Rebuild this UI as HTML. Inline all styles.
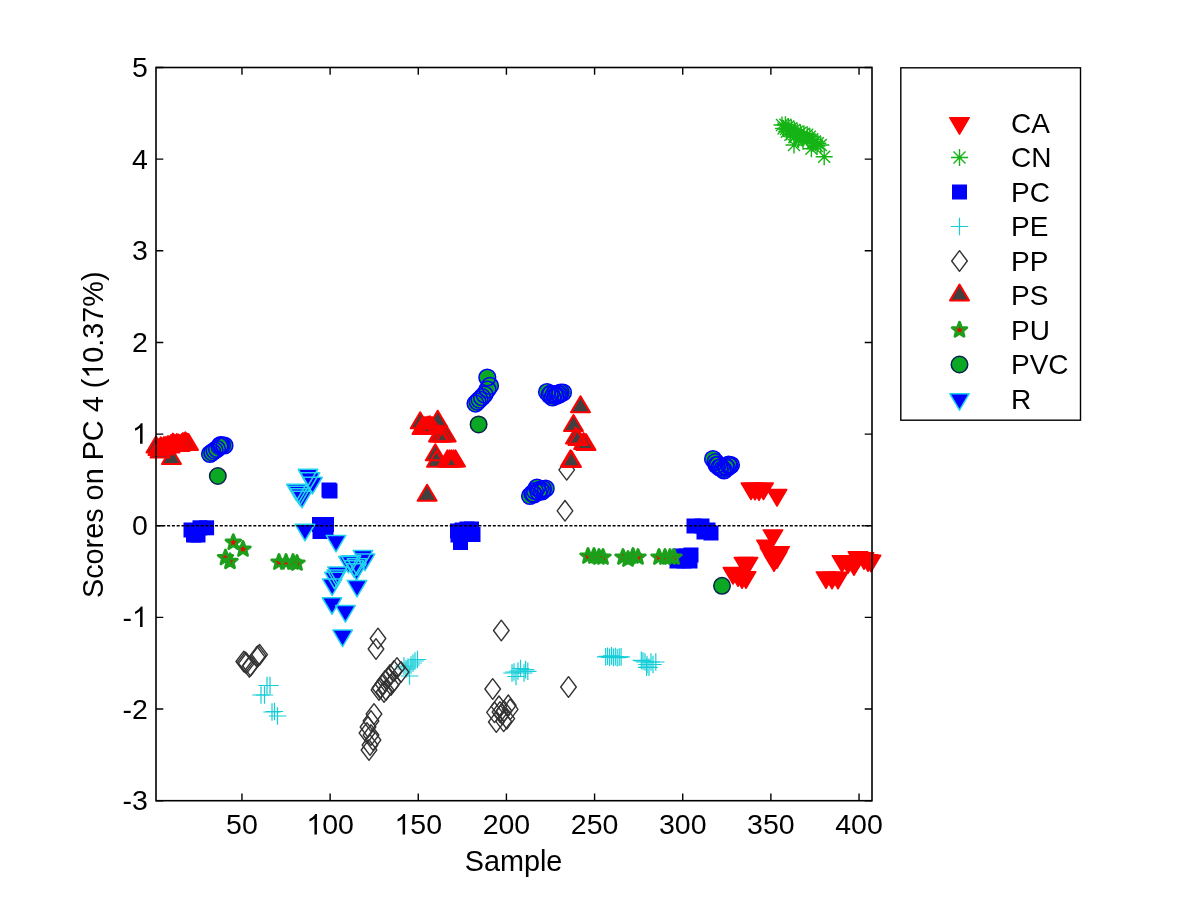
<!DOCTYPE html><html><head><meta charset="utf-8"><style>html,body{margin:0;padding:0;background:#fff;}svg{display:block;will-change:transform;}</style></head><body>
<svg width="1200" height="900" viewBox="0 0 1200 900">
<rect width="1200" height="900" fill="#fff"/>
<defs><path id="ca" d="M-9.75,0.75 L9.75,0.75 L0,17.25 Z" fill="#ff0000" stroke="#ff0000" stroke-width="1.5" stroke-linejoin="round"/><path id="r_f" d="M-9.75,0.75 L9.75,0.75 L0,17.25 Z" fill="#0000ff"/><path id="r_e" d="M-9.75,0.75 L9.75,0.75 L0,17.25 Z" fill="none" stroke="#22d3ee" stroke-width="1.5" stroke-linejoin="round"/><path id="ps_f" d="M0,1 L9.5,17 L-9.5,17 Z" fill="#404040"/><path id="ps_e" d="M0,1 L9.5,17 L-9.5,17 Z" fill="none" stroke="#ff0000" stroke-width="2" stroke-linejoin="round"/><rect id="pc" x="-7.5" y="-7.5" width="15" height="15" fill="#0000ff"/><circle id="pvc_f" r="8.25" fill="#0aa823"/><circle id="pvc_e" r="8.35" fill="none" stroke="#0000ff" stroke-width="1.5"/><circle id="pvci_e" r="8.25" fill="none" stroke="#0a2050" stroke-width="1.5"/><path id="pp" d="M0,-10.3 L7.8,0 L0,10.3 L-7.8,0 Z" fill="none" stroke="#333333" stroke-width="1.4" stroke-linejoin="round"/><path id="pe" d="M-8.7,0 H8.7 M0,-8.8 V8.8" fill="none" stroke="#14cdd8" stroke-width="1.2"/><path id="cn" d="M-8.5,0 H8.5 M0,-8.5 V8.5 M-6,-6 L6,6 M-6,6 L6,-6" fill="none" stroke="#14b414" stroke-width="1.4"/><path id="pu_f" d="M0.00,-7.65 L1.89,-2.60 L7.28,-2.36 L3.06,0.99 L4.50,6.19 L0.00,3.21 L-4.50,6.19 L-3.06,0.99 L-7.28,-2.36 L-1.89,-2.60 Z" fill="#e01000"/><path id="pu_e" d="M0.00,-7.65 L1.89,-2.60 L7.28,-2.36 L3.06,0.99 L4.50,6.19 L0.00,3.21 L-4.50,6.19 L-3.06,0.99 L-7.28,-2.36 L-1.89,-2.60 Z" fill="none" stroke="#1ca01c" stroke-width="2.9" stroke-linejoin="round"/></defs>
<use href="#ca" x="751.0" y="482.3"/><use href="#ca" x="755.0" y="482.5"/><use href="#ca" x="759.0" y="483.0"/><use href="#ca" x="763.5" y="482.3"/><use href="#ca" x="777.0" y="488.8"/><use href="#ca" x="773.0" y="529.2"/><use href="#ca" x="766.5" y="539.4"/><use href="#ca" x="779.6" y="545.9"/><use href="#ca" x="774.0" y="554.0"/><use href="#ca" x="770.0" y="547.0"/><use href="#ca" x="777.0" y="551.0"/><use href="#ca" x="744.0" y="556.7"/><use href="#ca" x="748.0" y="556.7"/><use href="#ca" x="733.0" y="566.8"/><use href="#ca" x="738.0" y="569.0"/><use href="#ca" x="742.0" y="571.0"/><use href="#ca" x="746.0" y="571.0"/><use href="#ca" x="826.0" y="571.2"/><use href="#ca" x="832.0" y="571.5"/><use href="#ca" x="838.0" y="571.5"/><use href="#ca" x="842.0" y="554.9"/><use href="#ca" x="848.0" y="556.0"/><use href="#ca" x="854.0" y="558.0"/><use href="#ca" x="858.0" y="551.0"/><use href="#ca" x="864.0" y="552.0"/><use href="#ca" x="868.0" y="554.0"/><use href="#ca" x="871.0" y="554.5"/>
<use href="#cn" x="782.0" y="125.0"/><use href="#cn" x="785.4" y="124.7"/><use href="#cn" x="788.3" y="126.5"/><use href="#cn" x="791.3" y="128.3"/><use href="#cn" x="794.3" y="130.0"/><use href="#cn" x="797.2" y="131.8"/><use href="#cn" x="800.5" y="132.8"/><use href="#cn" x="803.9" y="133.7"/><use href="#cn" x="807.2" y="134.7"/><use href="#cn" x="809.8" y="136.8"/><use href="#cn" x="812.2" y="139.3"/><use href="#cn" x="814.9" y="141.4"/><use href="#cn" x="817.8" y="143.2"/><use href="#cn" x="820.8" y="145.0"/><use href="#cn" x="783.5" y="128.4"/><use href="#cn" x="786.8" y="131.8"/><use href="#cn" x="790.4" y="134.8"/><use href="#cn" x="794.4" y="137.3"/><use href="#cn" x="798.5" y="139.5"/><use href="#cn" x="803.0" y="141.0"/><use href="#cn" x="794.0" y="145.0"/><use href="#cn" x="811.4" y="148.7"/><use href="#cn" x="824.2" y="156.7"/><use href="#cn" x="795.0" y="136.0"/><use href="#cn" x="802.0" y="138.0"/><use href="#cn" x="808.0" y="140.0"/><use href="#cn" x="813.0" y="143.0"/><use href="#cn" x="817.0" y="146.0"/><use href="#cn" x="790.0" y="131.0"/><use href="#cn" x="786.0" y="129.0"/>
<use href="#pc" x="191.0" y="530.0"/><use href="#pc" x="200.0" y="527.8"/><use href="#pc" x="206.6" y="527.8"/><use href="#pc" x="194.0" y="535.0"/><use href="#pc" x="198.0" y="535.0"/><use href="#pc" x="193.5" y="534.7"/><use href="#pc" x="329.0" y="490.0"/><use href="#pc" x="330.0" y="491.0"/><use href="#pc" x="319.5" y="524.5"/><use href="#pc" x="326.5" y="524.5"/><use href="#pc" x="320.0" y="531.5"/><use href="#pc" x="326.0" y="530.0"/><use href="#pc" x="457.5" y="531.0"/><use href="#pc" x="462.0" y="530.0"/><use href="#pc" x="467.0" y="529.0"/><use href="#pc" x="471.5" y="529.0"/><use href="#pc" x="473.0" y="534.5"/><use href="#pc" x="460.5" y="542.5"/><use href="#pc" x="458.0" y="535.0"/><use href="#pc" x="694.0" y="526.0"/><use href="#pc" x="702.0" y="526.0"/><use href="#pc" x="708.0" y="530.0"/><use href="#pc" x="711.0" y="533.0"/><use href="#pc" x="704.0" y="532.0"/><use href="#pc" x="677.0" y="561.0"/><use href="#pc" x="680.0" y="556.0"/><use href="#pc" x="686.0" y="556.0"/><use href="#pc" x="690.0" y="561.0"/><use href="#pc" x="691.0" y="555.0"/><use href="#pc" x="684.0" y="561.0"/>
<use href="#pe" x="267.0" y="685.5"/><use href="#pe" x="270.0" y="685.5"/><use href="#pe" x="261.0" y="695.0"/><use href="#pe" x="264.5" y="695.0"/><use href="#pe" x="272.0" y="712.0"/><use href="#pe" x="274.5" y="711.5"/><use href="#pe" x="277.5" y="716.0"/><use href="#pe" x="417.5" y="659.5"/><use href="#pe" x="415.0" y="661.0"/><use href="#pe" x="413.0" y="663.0"/><use href="#pe" x="411.0" y="665.0"/><use href="#pe" x="408.0" y="667.0"/><use href="#pe" x="406.0" y="669.0"/><use href="#pe" x="409.5" y="676.0"/><use href="#pe" x="404.0" y="666.0"/><use href="#pe" x="512.0" y="673.0"/><use href="#pe" x="516.0" y="676.5"/><use href="#pe" x="520.5" y="668.5"/><use href="#pe" x="527.8" y="671.3"/><use href="#pe" x="525.6" y="669.6"/><use href="#pe" x="524.0" y="673.0"/><use href="#pe" x="518.0" y="671.0"/><use href="#pe" x="514.0" y="672.0"/><use href="#pe" x="641.3" y="660.4"/><use href="#pe" x="643.0" y="661.0"/><use href="#pe" x="645.0" y="662.0"/><use href="#pe" x="647.0" y="664.5"/><use href="#pe" x="649.0" y="667.3"/><use href="#pe" x="651.0" y="662.0"/><use href="#pe" x="653.0" y="664.5"/><use href="#pe" x="655.8" y="662.0"/><use href="#pe" x="646.6" y="667.3"/><use href="#pe" x="605.7" y="656.9"/><use href="#pe" x="607.6" y="656.3"/><use href="#pe" x="609.6" y="657.3"/><use href="#pe" x="611.5" y="655.9"/><use href="#pe" x="613.4" y="657.4"/><use href="#pe" x="615.3" y="656.6"/><use href="#pe" x="617.2" y="657.7"/><use href="#pe" x="619.2" y="657.1"/><use href="#pe" x="621.1" y="656.9"/>
<use href="#pp" x="243.8" y="661.5"/><use href="#pp" x="245.2" y="662.3"/><use href="#pp" x="246.4" y="663.3"/><use href="#pp" x="259.6" y="654.7"/><use href="#pp" x="258.3" y="655.7"/><use href="#pp" x="257.0" y="656.8"/><use href="#pp" x="249.3" y="666.9"/><use href="#pp" x="250.6" y="665.8"/><use href="#pp" x="378.0" y="638.5"/><use href="#pp" x="376.0" y="649.0"/><use href="#pp" x="397.0" y="668.0"/><use href="#pp" x="401.0" y="672.0"/><use href="#pp" x="394.0" y="671.0"/><use href="#pp" x="390.0" y="675.0"/><use href="#pp" x="388.0" y="678.0"/><use href="#pp" x="385.0" y="681.0"/><use href="#pp" x="383.0" y="684.0"/><use href="#pp" x="380.0" y="688.0"/><use href="#pp" x="386.0" y="690.0"/><use href="#pp" x="391.0" y="685.0"/><use href="#pp" x="393.0" y="682.0"/><use href="#pp" x="379.0" y="690.0"/><use href="#pp" x="384.0" y="692.0"/><use href="#pp" x="374.0" y="714.0"/><use href="#pp" x="371.0" y="721.0"/><use href="#pp" x="368.0" y="727.0"/><use href="#pp" x="367.0" y="733.0"/><use href="#pp" x="371.0" y="735.0"/><use href="#pp" x="373.0" y="740.0"/><use href="#pp" x="370.0" y="745.0"/><use href="#pp" x="369.0" y="750.0"/><use href="#pp" x="501.3" y="630.5"/><use href="#pp" x="492.7" y="689.0"/><use href="#pp" x="499.0" y="706.3"/><use href="#pp" x="508.3" y="705.3"/><use href="#pp" x="510.2" y="709.3"/><use href="#pp" x="494.5" y="712.3"/><use href="#pp" x="496.3" y="722.0"/><use href="#pp" x="503.7" y="721.3"/><use href="#pp" x="506.8" y="718.7"/><use href="#pp" x="500.0" y="712.0"/><use href="#pp" x="502.0" y="714.0"/><use href="#pp" x="504.0" y="711.0"/><use href="#pp" x="566.7" y="469.8"/><use href="#pp" x="565.0" y="510.8"/><use href="#pp" x="568.5" y="687.0"/>
<use href="#ps_f" x="171.5" y="447.0"/><use href="#ps_f" x="156.0" y="435.5"/><use href="#ps_f" x="158.0" y="438.0"/><use href="#ps_f" x="160.0" y="440.5"/><use href="#ps_f" x="160.8" y="436.3"/><use href="#ps_f" x="163.0" y="437.5"/><use href="#ps_f" x="164.0" y="436.0"/><use href="#ps_f" x="166.0" y="436.0"/><use href="#ps_f" x="168.0" y="435.0"/><use href="#ps_f" x="170.0" y="435.5"/><use href="#ps_f" x="171.0" y="434.0"/><use href="#ps_f" x="173.0" y="432.5"/><use href="#ps_f" x="175.0" y="434.0"/><use href="#ps_f" x="176.8" y="433.0"/><use href="#ps_f" x="178.5" y="433.5"/><use href="#ps_f" x="180.0" y="434.0"/><use href="#ps_f" x="182.0" y="433.0"/><use href="#ps_f" x="183.0" y="432.0"/><use href="#ps_f" x="185.3" y="431.3"/><use href="#ps_f" x="187.0" y="432.5"/><use href="#ps_f" x="188.5" y="433.0"/><use href="#ps_f" x="427.1" y="483.7"/><use href="#ps_f" x="420.2" y="411.3"/><use href="#ps_f" x="422.0" y="417.0"/><use href="#ps_f" x="424.0" y="416.0"/><use href="#ps_f" x="426.0" y="416.0"/><use href="#ps_f" x="428.0" y="415.5"/><use href="#ps_f" x="429.9" y="415.2"/><use href="#ps_f" x="432.0" y="416.0"/><use href="#ps_f" x="437.7" y="409.7"/><use href="#ps_f" x="438.5" y="424.5"/><use href="#ps_f" x="440.0" y="424.5"/><use href="#ps_f" x="443.1" y="424.5"/><use href="#ps_f" x="446.2" y="424.5"/><use href="#ps_f" x="435.3" y="443.2"/><use href="#ps_f" x="436.5" y="449.7"/><use href="#ps_f" x="447.4" y="449.4"/><use href="#ps_f" x="449.5" y="449.4"/><use href="#ps_f" x="451.5" y="449.4"/><use href="#ps_f" x="453.5" y="449.4"/><use href="#ps_f" x="455.5" y="449.4"/><use href="#ps_f" x="580.5" y="395.2"/><use href="#ps_f" x="573.5" y="414.0"/><use href="#ps_f" x="575.5" y="426.5"/><use href="#ps_f" x="578.0" y="428.0"/><use href="#ps_f" x="583.6" y="432.0"/><use href="#ps_f" x="586.0" y="433.0"/><use href="#ps_f" x="570.5" y="449.3"/><use href="#ps_f" x="571.5" y="450.0"/><use href="#ps_e" x="171.5" y="447.0"/><use href="#ps_e" x="156.0" y="435.5"/><use href="#ps_e" x="158.0" y="438.0"/><use href="#ps_e" x="160.0" y="440.5"/><use href="#ps_e" x="160.8" y="436.3"/><use href="#ps_e" x="163.0" y="437.5"/><use href="#ps_e" x="164.0" y="436.0"/><use href="#ps_e" x="166.0" y="436.0"/><use href="#ps_e" x="168.0" y="435.0"/><use href="#ps_e" x="170.0" y="435.5"/><use href="#ps_e" x="171.0" y="434.0"/><use href="#ps_e" x="173.0" y="432.5"/><use href="#ps_e" x="175.0" y="434.0"/><use href="#ps_e" x="176.8" y="433.0"/><use href="#ps_e" x="178.5" y="433.5"/><use href="#ps_e" x="180.0" y="434.0"/><use href="#ps_e" x="182.0" y="433.0"/><use href="#ps_e" x="183.0" y="432.0"/><use href="#ps_e" x="185.3" y="431.3"/><use href="#ps_e" x="187.0" y="432.5"/><use href="#ps_e" x="188.5" y="433.0"/><use href="#ps_e" x="427.1" y="483.7"/><use href="#ps_e" x="420.2" y="411.3"/><use href="#ps_e" x="422.0" y="417.0"/><use href="#ps_e" x="424.0" y="416.0"/><use href="#ps_e" x="426.0" y="416.0"/><use href="#ps_e" x="428.0" y="415.5"/><use href="#ps_e" x="429.9" y="415.2"/><use href="#ps_e" x="432.0" y="416.0"/><use href="#ps_e" x="437.7" y="409.7"/><use href="#ps_e" x="438.5" y="424.5"/><use href="#ps_e" x="440.0" y="424.5"/><use href="#ps_e" x="443.1" y="424.5"/><use href="#ps_e" x="446.2" y="424.5"/><use href="#ps_e" x="435.3" y="443.2"/><use href="#ps_e" x="436.5" y="449.7"/><use href="#ps_e" x="447.4" y="449.4"/><use href="#ps_e" x="449.5" y="449.4"/><use href="#ps_e" x="451.5" y="449.4"/><use href="#ps_e" x="453.5" y="449.4"/><use href="#ps_e" x="455.5" y="449.4"/><use href="#ps_e" x="580.5" y="395.2"/><use href="#ps_e" x="573.5" y="414.0"/><use href="#ps_e" x="575.5" y="426.5"/><use href="#ps_e" x="578.0" y="428.0"/><use href="#ps_e" x="583.6" y="432.0"/><use href="#ps_e" x="586.0" y="433.0"/><use href="#ps_e" x="570.5" y="449.3"/><use href="#ps_e" x="571.5" y="450.0"/>
<use href="#pu_f" x="233.3" y="542.4"/><use href="#pu_f" x="243.0" y="549.2"/><use href="#pu_f" x="225.5" y="557.7"/><use href="#pu_f" x="230.0" y="561.5"/><use href="#pu_f" x="279.0" y="562.2"/><use href="#pu_f" x="286.0" y="562.2"/><use href="#pu_f" x="293.0" y="562.2"/><use href="#pu_f" x="297.0" y="563.2"/><use href="#pu_f" x="588.0" y="556.2"/><use href="#pu_f" x="594.0" y="556.2"/><use href="#pu_f" x="599.0" y="557.2"/><use href="#pu_f" x="603.0" y="557.2"/><use href="#pu_f" x="623.0" y="557.2"/><use href="#pu_f" x="628.0" y="559.2"/><use href="#pu_f" x="633.0" y="556.2"/><use href="#pu_f" x="638.0" y="557.2"/><use href="#pu_f" x="659.0" y="557.2"/><use href="#pu_f" x="665.0" y="557.2"/><use href="#pu_f" x="670.0" y="557.2"/><use href="#pu_f" x="674.0" y="557.2"/><use href="#pu_e" x="233.3" y="542.4"/><use href="#pu_e" x="243.0" y="549.2"/><use href="#pu_e" x="225.5" y="557.7"/><use href="#pu_e" x="230.0" y="561.5"/><use href="#pu_e" x="279.0" y="562.2"/><use href="#pu_e" x="286.0" y="562.2"/><use href="#pu_e" x="293.0" y="562.2"/><use href="#pu_e" x="297.0" y="563.2"/><use href="#pu_e" x="588.0" y="556.2"/><use href="#pu_e" x="594.0" y="556.2"/><use href="#pu_e" x="599.0" y="557.2"/><use href="#pu_e" x="603.0" y="557.2"/><use href="#pu_e" x="623.0" y="557.2"/><use href="#pu_e" x="628.0" y="559.2"/><use href="#pu_e" x="633.0" y="556.2"/><use href="#pu_e" x="638.0" y="557.2"/><use href="#pu_e" x="659.0" y="557.2"/><use href="#pu_e" x="665.0" y="557.2"/><use href="#pu_e" x="670.0" y="557.2"/><use href="#pu_e" x="674.0" y="557.2"/>
<use href="#pvc_f" x="210.0" y="454.0"/><use href="#pvc_f" x="212.3" y="452.3"/><use href="#pvc_f" x="214.6" y="450.6"/><use href="#pvc_f" x="217.0" y="449.0"/><use href="#pvc_f" x="219.5" y="446.3"/><use href="#pvc_f" x="222.0" y="445.3"/><use href="#pvc_f" x="224.5" y="445.5"/><use href="#pvc_f" x="220.5" y="445.0"/><use href="#pvc_f" x="487.3" y="377.5"/><use href="#pvc_f" x="490.0" y="385.8"/><use href="#pvc_f" x="487.5" y="389.5"/><use href="#pvc_f" x="484.5" y="394.5"/><use href="#pvc_f" x="482.0" y="397.2"/><use href="#pvc_f" x="479.5" y="399.6"/><use href="#pvc_f" x="477.5" y="401.6"/><use href="#pvc_f" x="475.5" y="403.6"/><use href="#pvc_f" x="547.0" y="392.0"/><use href="#pvc_f" x="549.5" y="395.0"/><use href="#pvc_f" x="552.5" y="397.5"/><use href="#pvc_f" x="555.5" y="396.0"/><use href="#pvc_f" x="558.0" y="393.5"/><use href="#pvc_f" x="560.5" y="392.5"/><use href="#pvc_f" x="563.0" y="392.5"/><use href="#pvc_f" x="551.0" y="393.5"/><use href="#pvc_f" x="554.0" y="394.5"/><use href="#pvc_f" x="557.0" y="395.5"/><use href="#pvc_f" x="559.5" y="394.5"/><use href="#pvc_f" x="530.0" y="496.0"/><use href="#pvc_f" x="532.5" y="493.5"/><use href="#pvc_f" x="535.0" y="491.0"/><use href="#pvc_f" x="537.0" y="487.5"/><use href="#pvc_f" x="540.0" y="489.5"/><use href="#pvc_f" x="543.0" y="489.0"/><use href="#pvc_f" x="545.7" y="488.5"/><use href="#pvc_f" x="534.0" y="494.5"/><use href="#pvc_f" x="538.5" y="492.0"/><use href="#pvc_f" x="542.0" y="491.5"/><use href="#pvc_f" x="713.0" y="459.0"/><use href="#pvc_f" x="715.5" y="462.0"/><use href="#pvc_f" x="718.0" y="464.5"/><use href="#pvc_f" x="721.0" y="467.0"/><use href="#pvc_f" x="724.0" y="470.5"/><use href="#pvc_f" x="727.0" y="468.0"/><use href="#pvc_f" x="729.5" y="466.0"/><use href="#pvc_f" x="731.0" y="465.0"/><use href="#pvc_f" x="716.5" y="465.0"/><use href="#pvc_f" x="719.5" y="467.5"/><use href="#pvc_f" x="722.5" y="469.0"/><use href="#pvc_f" x="725.5" y="466.5"/><use href="#pvc_f" x="728.5" y="464.5"/><use href="#pvc_f" x="217.8" y="476.0"/><use href="#pvc_f" x="478.6" y="424.4"/><use href="#pvc_f" x="722.0" y="585.8"/><use href="#pvc_e" x="210.0" y="454.0"/><use href="#pvc_e" x="212.3" y="452.3"/><use href="#pvc_e" x="214.6" y="450.6"/><use href="#pvc_e" x="217.0" y="449.0"/><use href="#pvc_e" x="219.5" y="446.3"/><use href="#pvc_e" x="222.0" y="445.3"/><use href="#pvc_e" x="224.5" y="445.5"/><use href="#pvc_e" x="220.5" y="445.0"/><use href="#pvc_e" x="487.3" y="377.5"/><use href="#pvc_e" x="490.0" y="385.8"/><use href="#pvc_e" x="487.5" y="389.5"/><use href="#pvc_e" x="484.5" y="394.5"/><use href="#pvc_e" x="482.0" y="397.2"/><use href="#pvc_e" x="479.5" y="399.6"/><use href="#pvc_e" x="477.5" y="401.6"/><use href="#pvc_e" x="475.5" y="403.6"/><use href="#pvc_e" x="547.0" y="392.0"/><use href="#pvc_e" x="549.5" y="395.0"/><use href="#pvc_e" x="552.5" y="397.5"/><use href="#pvc_e" x="555.5" y="396.0"/><use href="#pvc_e" x="558.0" y="393.5"/><use href="#pvc_e" x="560.5" y="392.5"/><use href="#pvc_e" x="563.0" y="392.5"/><use href="#pvc_e" x="551.0" y="393.5"/><use href="#pvc_e" x="554.0" y="394.5"/><use href="#pvc_e" x="557.0" y="395.5"/><use href="#pvc_e" x="559.5" y="394.5"/><use href="#pvc_e" x="530.0" y="496.0"/><use href="#pvc_e" x="532.5" y="493.5"/><use href="#pvc_e" x="535.0" y="491.0"/><use href="#pvc_e" x="537.0" y="487.5"/><use href="#pvc_e" x="540.0" y="489.5"/><use href="#pvc_e" x="543.0" y="489.0"/><use href="#pvc_e" x="545.7" y="488.5"/><use href="#pvc_e" x="534.0" y="494.5"/><use href="#pvc_e" x="538.5" y="492.0"/><use href="#pvc_e" x="542.0" y="491.5"/><use href="#pvc_e" x="713.0" y="459.0"/><use href="#pvc_e" x="715.5" y="462.0"/><use href="#pvc_e" x="718.0" y="464.5"/><use href="#pvc_e" x="721.0" y="467.0"/><use href="#pvc_e" x="724.0" y="470.5"/><use href="#pvc_e" x="727.0" y="468.0"/><use href="#pvc_e" x="729.5" y="466.0"/><use href="#pvc_e" x="731.0" y="465.0"/><use href="#pvc_e" x="716.5" y="465.0"/><use href="#pvc_e" x="719.5" y="467.5"/><use href="#pvc_e" x="722.5" y="469.0"/><use href="#pvc_e" x="725.5" y="466.5"/><use href="#pvc_e" x="728.5" y="464.5"/><use href="#pvci_e" x="217.8" y="476.0"/><use href="#pvci_e" x="478.6" y="424.4"/><use href="#pvci_e" x="722.0" y="585.8"/>
<use href="#r_f" x="308.0" y="468.5"/><use href="#r_f" x="310.0" y="472.0"/><use href="#r_f" x="312.5" y="476.5"/><use href="#r_f" x="296.5" y="483.5"/><use href="#r_f" x="298.5" y="485.5"/><use href="#r_f" x="300.0" y="488.0"/><use href="#r_f" x="302.0" y="490.5"/><use href="#r_f" x="305.0" y="523.5"/><use href="#r_f" x="336.0" y="534.7"/><use href="#r_f" x="363.0" y="549.7"/><use href="#r_f" x="365.0" y="553.3"/><use href="#r_f" x="348.5" y="555.7"/><use href="#r_f" x="351.0" y="555.0"/><use href="#r_f" x="354.0" y="560.0"/><use href="#r_f" x="357.0" y="558.0"/><use href="#r_f" x="356.5" y="563.0"/><use href="#r_f" x="337.5" y="566.2"/><use href="#r_f" x="336.7" y="569.2"/><use href="#r_f" x="334.5" y="571.5"/><use href="#r_f" x="332.2" y="578.2"/><use href="#r_f" x="357.0" y="579.7"/><use href="#r_f" x="332.0" y="597.0"/><use href="#r_f" x="345.4" y="604.8"/><use href="#r_f" x="342.6" y="629.3"/><use href="#r_e" x="308.0" y="468.5"/><use href="#r_e" x="310.0" y="472.0"/><use href="#r_e" x="312.5" y="476.5"/><use href="#r_e" x="296.5" y="483.5"/><use href="#r_e" x="298.5" y="485.5"/><use href="#r_e" x="300.0" y="488.0"/><use href="#r_e" x="302.0" y="490.5"/><use href="#r_e" x="305.0" y="523.5"/><use href="#r_e" x="336.0" y="534.7"/><use href="#r_e" x="363.0" y="549.7"/><use href="#r_e" x="365.0" y="553.3"/><use href="#r_e" x="348.5" y="555.7"/><use href="#r_e" x="351.0" y="555.0"/><use href="#r_e" x="354.0" y="560.0"/><use href="#r_e" x="357.0" y="558.0"/><use href="#r_e" x="356.5" y="563.0"/><use href="#r_e" x="337.5" y="566.2"/><use href="#r_e" x="336.7" y="569.2"/><use href="#r_e" x="334.5" y="571.5"/><use href="#r_e" x="332.2" y="578.2"/><use href="#r_e" x="357.0" y="579.7"/><use href="#r_e" x="332.0" y="597.0"/><use href="#r_e" x="345.4" y="604.8"/><use href="#r_e" x="342.6" y="629.3"/>
<line x1="156.0" y1="525.75" x2="872.0" y2="525.75" stroke="#000" stroke-width="1.3" stroke-dasharray="3,1.79" stroke-dashoffset="-1.52"/>
<rect x="156.0" y="67.5" width="716.0" height="733.2" fill="none" stroke="#000" stroke-width="1.6"/>
<path d="M241.96,800.70 V793.40 M241.96,67.50 V74.80 M330.11,800.70 V793.40 M330.11,67.50 V74.80 M418.26,800.70 V793.40 M418.26,67.50 V74.80 M506.42,800.70 V793.40 M506.42,67.50 V74.80 M594.58,800.70 V793.40 M594.58,67.50 V74.80 M682.73,800.70 V793.40 M682.73,67.50 V74.80 M770.88,800.70 V793.40 M770.88,67.50 V74.80 M859.04,800.70 V793.40 M859.04,67.50 V74.80 M156.00,800.70 H163.30 M872.00,800.70 H864.70 M156.00,709.05 H163.30 M872.00,709.05 H864.70 M156.00,617.40 H163.30 M872.00,617.40 H864.70 M156.00,525.75 H163.30 M872.00,525.75 H864.70 M156.00,434.10 H163.30 M872.00,434.10 H864.70 M156.00,342.45 H163.30 M872.00,342.45 H864.70 M156.00,250.80 H163.30 M872.00,250.80 H864.70 M156.00,159.15 H163.30 M872.00,159.15 H864.70 M156.00,67.50 H163.30 M872.00,67.50 H864.70" stroke="#000" stroke-width="1.4" fill="none"/>
<g font-family="Liberation Sans, sans-serif" font-size="28.5" style="font-kerning:none" fill="#000"><text x="226.10" y="834.40">50</text></g><g font-family="Liberation Sans, sans-serif" font-size="28.5" style="font-kerning:none" fill="#000"><path transform="translate(306.33,834.40) scale(0.01392,-0.01392)" d="M763,0 L583,0 L583,1147 Q518,1085 412,1023 Q307,961 223,930 L223,1104 Q374,1175 486,1276 Q599,1377 646,1472 L763,1472 Z"/><text x="322.18" y="834.40">00</text></g><g font-family="Liberation Sans, sans-serif" font-size="28.5" style="font-kerning:none" fill="#000"><path transform="translate(394.49,834.40) scale(0.01392,-0.01392)" d="M763,0 L583,0 L583,1147 Q518,1085 412,1023 Q307,961 223,930 L223,1104 Q374,1175 486,1276 Q599,1377 646,1472 L763,1472 Z"/><text x="410.34" y="834.40">50</text></g><g font-family="Liberation Sans, sans-serif" font-size="28.5" style="font-kerning:none" fill="#000"><text x="482.64" y="834.40">200</text></g><g font-family="Liberation Sans, sans-serif" font-size="28.5" style="font-kerning:none" fill="#000"><text x="570.80" y="834.40">250</text></g><g font-family="Liberation Sans, sans-serif" font-size="28.5" style="font-kerning:none" fill="#000"><text x="658.95" y="834.40">300</text></g><g font-family="Liberation Sans, sans-serif" font-size="28.5" style="font-kerning:none" fill="#000"><text x="747.11" y="834.40">350</text></g><g font-family="Liberation Sans, sans-serif" font-size="28.5" style="font-kerning:none" fill="#000"><text x="835.26" y="834.40">400</text></g><g font-family="Liberation Sans, sans-serif" font-size="28.5" style="font-kerning:none" fill="#000"><text x="122.46" y="810.30">-3</text></g><g font-family="Liberation Sans, sans-serif" font-size="28.5" style="font-kerning:none" fill="#000"><text x="122.46" y="718.65">-2</text></g><g font-family="Liberation Sans, sans-serif" font-size="28.5" style="font-kerning:none" fill="#000"><text x="122.46" y="627.00">-</text><path transform="translate(131.95,627.00) scale(0.01392,-0.01392)" d="M763,0 L583,0 L583,1147 Q518,1085 412,1023 Q307,961 223,930 L223,1104 Q374,1175 486,1276 Q599,1377 646,1472 L763,1472 Z"/></g><g font-family="Liberation Sans, sans-serif" font-size="28.5" style="font-kerning:none" fill="#000"><text x="131.95" y="535.35">0</text></g><g font-family="Liberation Sans, sans-serif" font-size="28.5" style="font-kerning:none" fill="#000"><path transform="translate(131.95,443.70) scale(0.01392,-0.01392)" d="M763,0 L583,0 L583,1147 Q518,1085 412,1023 Q307,961 223,930 L223,1104 Q374,1175 486,1276 Q599,1377 646,1472 L763,1472 Z"/></g><g font-family="Liberation Sans, sans-serif" font-size="28.5" style="font-kerning:none" fill="#000"><text x="131.95" y="352.05">2</text></g><g font-family="Liberation Sans, sans-serif" font-size="28.5" style="font-kerning:none" fill="#000"><text x="131.95" y="260.40">3</text></g><g font-family="Liberation Sans, sans-serif" font-size="28.5" style="font-kerning:none" fill="#000"><text x="131.95" y="168.75">4</text></g><g font-family="Liberation Sans, sans-serif" font-size="28.5" style="font-kerning:none" fill="#000"><text x="131.95" y="77.10">5</text></g>
<g font-family="Liberation Sans, sans-serif" font-size="28.8" style="font-kerning:none" fill="#000"><text x="464.68" y="870.50">Sample</text></g>
<g font-family="Liberation Sans, sans-serif" font-size="28.8" style="font-kerning:none" fill="#000" transform="translate(103.0,434.75) rotate(-90)"><text x="-163.28" y="0.00">Scores on PC 4 (</text><path transform="translate(56.01,0.00) scale(0.01406,-0.01406)" d="M763,0 L583,0 L583,1147 Q518,1085 412,1023 Q307,961 223,930 L223,1104 Q374,1175 486,1276 Q599,1377 646,1472 L763,1472 Z"/><text x="72.03" y="0.00">0.37%)</text></g>
<rect x="900.8" y="67.8" width="179.7" height="352.4" fill="#fff" stroke="#000" stroke-width="1.4"/>
<use href="#ca" x="959.5" y="116.9"/><text font-family="Liberation Sans, sans-serif" font-size="28" x="1011" y="132.75">CA</text><use href="#cn" x="959.5" y="157.5"/><text font-family="Liberation Sans, sans-serif" font-size="28" x="1011" y="167.25">CN</text><use href="#pc" x="959.5" y="192.0"/><text font-family="Liberation Sans, sans-serif" font-size="28" x="1011" y="201.75">PC</text><use href="#pe" x="959.5" y="226.5"/><text font-family="Liberation Sans, sans-serif" font-size="28" x="1011" y="236.25">PE</text><use href="#pp" x="959.5" y="261.0"/><text font-family="Liberation Sans, sans-serif" font-size="28" x="1011" y="270.75">PP</text><use href="#ps_f" x="959.5" y="283.5"/><use href="#ps_e" x="959.5" y="283.5"/><text font-family="Liberation Sans, sans-serif" font-size="28" x="1011" y="305.25">PS</text><use href="#pu_f" x="959.5" y="330.0"/><use href="#pu_e" x="959.5" y="330.0"/><text font-family="Liberation Sans, sans-serif" font-size="28" x="1011" y="339.75">PU</text><use href="#pvc_f" x="959.5" y="364.5"/><use href="#pvci_e" x="959.5" y="364.5"/><text font-family="Liberation Sans, sans-serif" font-size="28" x="1011" y="374.25">PVC</text><use href="#r_f" x="959.5" y="392.9"/><use href="#r_e" x="959.5" y="392.9"/><text font-family="Liberation Sans, sans-serif" font-size="28" x="1011" y="408.75">R</text>
</svg></body></html>
